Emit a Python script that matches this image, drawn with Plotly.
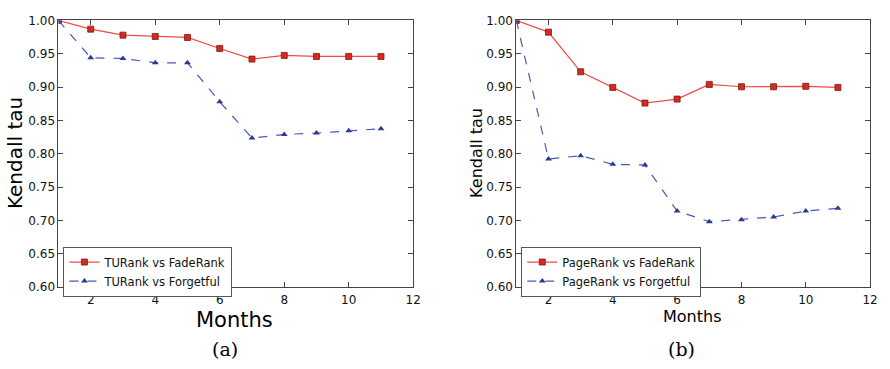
import plotly.graph_objects as go

months = [1, 2, 3, 4, 5, 6, 7, 8, 9, 10, 11]

# Panel (a): TURank comparisons
tu_fade = [1.000, 0.987, 0.978, 0.976, 0.9745, 0.958, 0.942, 0.9475, 0.946, 0.946, 0.946]
tu_forget = [1.000, 0.944, 0.943, 0.9365, 0.9365, 0.878, 0.8235, 0.829, 0.831, 0.8345, 0.8375]

# Panel (b): PageRank comparisons
pr_fade = [1.000, 0.9825, 0.923, 0.8995, 0.876, 0.882, 0.904, 0.9005, 0.9005, 0.9012, 0.8995]
pr_forget = [1.000, 0.792, 0.797, 0.784, 0.783, 0.714, 0.698, 0.701, 0.705, 0.714, 0.718]

x_ticks = [2, 4, 6, 8, 10, 12]
y_ticks = [0.60, 0.65, 0.70, 0.75, 0.80, 0.85, 0.90, 0.95, 1.00]

W, H = 890, 369
RED_LINE = "#f04a4a"
RED_MARK = "#d42a22"
BLUE_LINE = "#4a58b8"
BLUE_MARK = "#2c3a94"

fig = go.Figure()


def add_pair(fade, forget, names, xa, ya, legend):
    fig.add_trace(go.Scatter(
        x=months, y=fade, name=names[0], mode="lines+markers",
        line=dict(color=RED_LINE, width=1.2),
        marker=dict(symbol="square", size=6, color=RED_MARK,
                    line=dict(color="#7a1a14", width=0.8)),
        xaxis=xa, yaxis=ya, legend=legend))
    fig.add_trace(go.Scatter(
        x=months, y=forget, name=names[1], mode="lines+markers",
        line=dict(color=BLUE_LINE, width=1.2, dash="dash"),
        marker=dict(symbol="triangle-up", size=6, color=BLUE_MARK,
                    line=dict(color=BLUE_MARK, width=0)),
        xaxis=xa, yaxis=ya, legend=legend))


add_pair(tu_fade, tu_forget, ["TURank vs FadeRank", "TURank vs Forgetful"],
         "x", "y", "legend")
add_pair(pr_fade, pr_forget, ["PageRank vs FadeRank", "PageRank vs Forgetful"],
         "x2", "y2", "legend2")

y_dom = [1 - 291 / H, 1 - 14 / H]
axis_common = dict(
    showgrid=False, zeroline=False, showline=True, linecolor="#444",
    linewidth=1, mirror="ticks", ticks="inside", ticklen=5,
    tickcolor="#444", tickfont=dict(family="DejaVu Sans", size=12, color="#111"),
)
legend_common = dict(
    yanchor="top", xanchor="left", bordercolor="#555", borderwidth=1,
    bgcolor="white", font=dict(family="DejaVu Sans", size=11.5, color="#111"),
    tracegroupgap=0, itemwidth=30,
)

fig.update_layout(
    width=W, height=H,
    margin=dict(l=0, r=0, t=0, b=0),
    paper_bgcolor="white", plot_bgcolor="white",
    xaxis=dict(domain=[59 / W, 417 / W], range=[1, 12], tickvals=x_ticks,
               anchor="y", ticklabelstandoff=2, **axis_common),
    yaxis=dict(domain=y_dom, range=[0.60, 1.00], tickvals=y_ticks,
               tickformat=".2f", anchor="x", **axis_common),
    xaxis2=dict(domain=[521 / W, 878 / W], range=[1, 12], tickvals=x_ticks,
                anchor="y2", ticklabelstandoff=2, **axis_common),
    yaxis2=dict(domain=y_dom, range=[0.60, 1.00], tickvals=y_ticks,
                tickformat=".2f", anchor="x2", **axis_common),
    legend=dict(x=64 / W, y=1 - 249 / H, **legend_common),
    legend2=dict(x=526 / W, y=1 - 249 / H, **legend_common),
    showlegend=True,
)

annots = [
    dict(text="Kendall tau", x=15 / W, y=1 - 152 / H, textangle=-90,
         yanchor="middle", font=dict(family="DejaVu Sans", size=20, color="black")),
    dict(text="Months", x=237 / W, y=1 - 312 / H, yanchor="top",
         font=dict(family="DejaVu Sans", size=21, color="black")),
    dict(text="(a)", x=227 / W, y=1 - 356 / H, yanchor="middle",
         font=dict(family="DejaVu Serif", size=19, color="black")),
    dict(text="Kendall tau", x=481 / W, y=1 - 152 / H, textangle=-90,
         yanchor="middle", font=dict(family="DejaVu Sans", size=16, color="black")),
    dict(text="Months", x=698 / W, y=1 - 311 / H, yanchor="top",
         font=dict(family="DejaVu Sans", size=16, color="black")),
    dict(text="(b)", x=688 / W, y=1 - 356 / H, yanchor="middle",
         font=dict(family="DejaVu Serif", size=19, color="black")),
]
for a in annots:
    fig.add_annotation(xref="paper", yref="paper", showarrow=False,
                       xanchor="center", borderpad=0, **a)

fig.write_html("out.html")
